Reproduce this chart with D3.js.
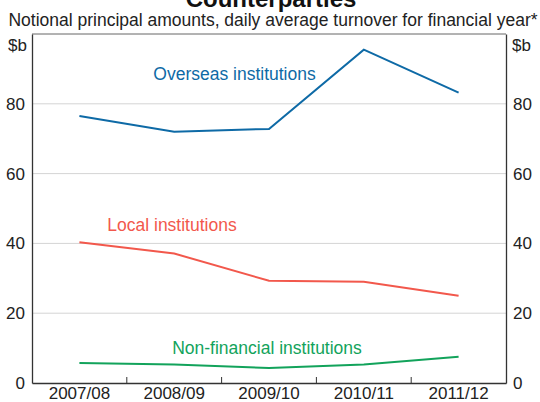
<!DOCTYPE html>
<html><head><meta charset="utf-8">
<script src="https://cdn.jsdelivr.net/npm/d3@7"></script>
<style>body{margin:0;background:#fff}svg{display:block;font-family:"Liberation Sans",Arial,sans-serif}</style>
</head><body><svg id="c" width="540" height="402"></svg>
<script>
const categories = ["2007/08","2008/09","2009/10","2010/11","2011/12"];
const overseas = [76.5, 72.0, 72.8, 95.5, 83.2];
const local = [40.3, 37.1, 29.3, 29.0, 25.0];
const nonFinancial = [5.7, 5.3, 4.3, 5.3, 7.5];
const yTicks = [0, 20, 40, 60, 80];
const seriesNames = ["Overseas institutions","Local institutions","Non-financial institutions"];

const svg = d3.select("#c");
const L = 32, R = 506, T = 34, B = 383;
const x = d3.scaleBand().domain(categories).range([L, R]);
const y = d3.scaleLinear().domain([0, 100]).range([B, T]);

svg.append("g").selectAll("line").data(yTicks.filter(d => d > 0)).join("line")
  .attr("x1", L).attr("x2", R).attr("y1", d => y(d)).attr("y2", d => y(d))
  .attr("stroke", "#d4d4d4").attr("stroke-width", 1);
svg.append("line").attr("x1", L).attr("x2", R).attr("y1", y(100)).attr("y2", y(100))
  .attr("stroke", "#666").attr("stroke-width", 1);

const yL = d3.axisLeft(y).tickValues(yTicks).tickSize(0).tickPadding(7);
const yR = d3.axisRight(y).tickValues(yTicks).tickSize(0).tickPadding(7);
const gl = svg.append("g").attr("transform", `translate(${L},0)`).call(yL);
const gr = svg.append("g").attr("transform", `translate(${R},0)`).call(yR);
[gl, gr].forEach(g => {
  g.select(".domain").attr("stroke", "#333").attr("stroke-width", 1.3);
  g.selectAll("text").attr("font-size", 17).attr("fill", "#222").attr("font-family", "Liberation Sans, Arial, sans-serif");
});
svg.append("text").attr("x", L - 5).attr("y", y(100) + 17).attr("text-anchor", "end")
  .attr("font-size", 17).attr("fill", "#222").text("$b");
svg.append("text").attr("x", R + 6).attr("y", y(100) + 17).attr("text-anchor", "start")
  .attr("font-size", 17).attr("fill", "#222").text("$b");

const gx = svg.append("g").attr("transform", `translate(0,${B})`)
  .call(d3.axisBottom(x).tickSize(0).tickPadding(3.5));
gx.select(".domain").attr("stroke", "#333").attr("stroke-width", 1.3);
gx.selectAll("text").attr("font-size", 17).attr("fill", "#222").attr("font-family", "Liberation Sans, Arial, sans-serif");
svg.append("g").selectAll("line").data(categories.slice(1)).join("line")
  .attr("x1", d => x(d)).attr("x2", d => x(d)).attr("y1", B).attr("y2", B - 6)
  .attr("stroke", "#333").attr("stroke-width", 1);

const colors = ["#0e6aa6", "#f2584c", "#12a35b"];
const data = [overseas, local, nonFinancial];
const line = d3.line().x((d, i) => x(categories[i]) + x.bandwidth() / 2).y(d => y(d));
data.forEach((s, k) => {
  svg.append("path").datum(s).attr("d", line).attr("fill", "none")
    .attr("stroke", colors[k]).attr("stroke-width", 2);
});
const labelPos = [[234.5, 80], [172, 231], [267, 354]];
seriesNames.forEach((n, k) => {
  svg.append("text").attr("x", labelPos[k][0]).attr("y", labelPos[k][1]).attr("text-anchor", "middle")
    .attr("font-size", 17.5).attr("fill", colors[k]).text(n);
});

svg.append("text").attr("x", 271).attr("y", 7).attr("text-anchor", "middle")
  .attr("font-size", 24).attr("font-weight", "bold").attr("fill", "#111").text("Counterparties");
svg.append("text").attr("x", 273).attr("y", 26).attr("text-anchor", "middle")
  .attr("font-size", 17.5).attr("fill", "#222").text("Notional principal amounts, daily average turnover for financial year*");
</script></body></html>
